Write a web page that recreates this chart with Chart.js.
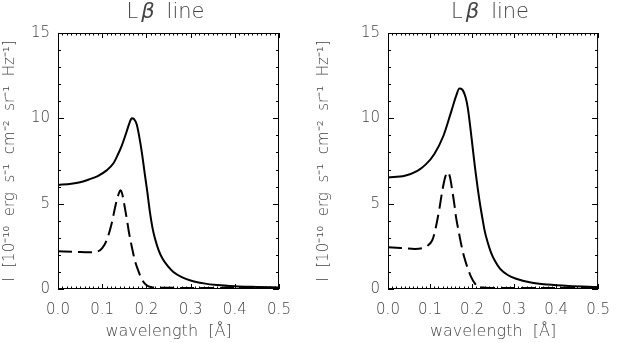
<!DOCTYPE html>
<html>
<head>
<meta charset="utf-8">
<script src="https://cdn.jsdelivr.net/npm/chart.js@4/dist/chart.umd.min.js"></script>
<style>
  html, body { margin: 0; padding: 0; background: #fff; }
  .panel { position: absolute; top: 0; width: 311px; height: 343px; }
</style>
</head>
<body>
<div class="panel" style="left:0"><canvas id="left" width="311" height="343"></canvas></div>
<div class="panel" style="left:311px"><canvas id="right" width="311" height="343"></canvas></div>
<script>
// left panel
const waveSolidL = [0.00, 0.03, 0.05, 0.07, 0.09, 0.11, 0.125, 0.135, 0.145, 0.155, 0.162, 0.167, 0.172, 0.178, 0.184, 0.190, 0.196, 0.202, 0.208, 0.214, 0.220, 0.228, 0.236, 0.248, 0.261, 0.28, 0.30, 0.33, 0.36, 0.40, 0.45, 0.50]
const intSolidL = [6.10, 6.17, 6.26, 6.42, 6.62, 6.95, 7.35, 7.85, 8.45, 9.20, 9.75, 10.00, 9.95, 9.65, 8.90, 7.95, 6.80, 5.70, 4.50, 3.55, 2.90, 2.25, 1.80, 1.35, 1.00, 0.70, 0.50, 0.33, 0.23, 0.16, 0.12, 0.09]
const waveDashL = [0.00, 0.04, 0.07, 0.09, 0.10, 0.11, 0.121, 0.131, 0.137, 0.141, 0.145, 0.151, 0.156, 0.161, 0.168, 0.174, 0.182, 0.189, 0.197, 0.205, 0.215, 0.25, 0.30, 0.50]
const intDashL = [2.21, 2.18, 2.15, 2.20, 2.40, 2.85, 3.80, 5.00, 5.55, 5.78, 5.60, 4.80, 4.05, 3.25, 2.35, 1.66, 1.05, 0.60, 0.30, 0.15, 0.09, 0.07, 0.06, 0.05]

// right panel
const waveSolidR = [0.00, 0.04, 0.07, 0.09, 0.11, 0.132, 0.151, 0.162, 0.170, 0.176, 0.185, 0.190, 0.196, 0.201, 0.207, 0.213, 0.219, 0.225, 0.230, 0.237, 0.245, 0.255, 0.267, 0.285, 0.305, 0.34, 0.38, 0.43, 0.50]
const intSolidR = [6.54, 6.64, 6.92, 7.30, 7.90, 8.98, 10.44, 11.30, 11.75, 11.70, 11.20, 10.60, 9.46, 8.40, 7.12, 6.00, 4.98, 4.10, 3.42, 2.75, 2.15, 1.62, 1.18, 0.82, 0.60, 0.38, 0.26, 0.18, 0.12]
const waveDashR = [0.00, 0.03, 0.064, 0.085, 0.094, 0.105, 0.111, 0.117, 0.123, 0.128, 0.136, 0.143, 0.148, 0.153, 0.158, 0.162, 0.168, 0.174, 0.181, 0.189, 0.198, 0.207, 0.215, 0.23, 0.30, 0.50]
const intDashR = [2.44, 2.40, 2.35, 2.42, 2.54, 2.84, 3.30, 4.00, 4.80, 5.57, 6.54, 6.83, 6.50, 5.76, 4.95, 4.20, 3.40, 2.64, 1.90, 1.27, 0.70, 0.32, 0.15, 0.08, 0.06, 0.05]

const xTicks = [0.0, 0.1, 0.2, 0.3, 0.4, 0.5]
const yTicks = [0, 5, 10, 15]
const panelTitle = ['L', 'β', 'line']
const xLabel = 'wavelength  [Å]'
const yLabel = 'I  [10⁻¹⁰  erg  s⁻¹  cm⁻²  sr⁻¹  Hz⁻¹]'

const textColor = '#444'
const fontFamily = '"DejaVu Sans", sans-serif'

const pts = (xs, ys) => xs.map((x, i) => ({ x: x, y: ys[i] }))

// IDL-style frame: box with inward ticks on all four sides, plus the title
const idlFrame = {
  id: 'idlFrame',
  afterDatasetsDraw(chart) {
    const { ctx, chartArea: a, scales: { x, y } } = chart
    ctx.save()
    ctx.strokeStyle = '#000'
    ctx.lineWidth = 1
    ctx.strokeRect(a.left + 0.5, a.top + 0.5, a.width - 1, a.height - 1)
    ctx.beginPath()
    for (let i = 0; i <= 50; i++) {
      const px = Math.round(x.getPixelForValue(i / 100)) + 0.5
      const len = i % 10 === 0 ? 5 : 2.5
      ctx.moveTo(px, a.bottom); ctx.lineTo(px, a.bottom - len)
      ctx.moveTo(px, a.top); ctx.lineTo(px, a.top + len)
    }
    for (let v = 0; v <= 15; v++) {
      const py = Math.round(y.getPixelForValue(v)) + 0.5
      const len = v % 5 === 0 ? 6 : 3
      ctx.moveTo(a.left, py); ctx.lineTo(a.left + len, py)
      ctx.moveTo(a.right, py); ctx.lineTo(a.right - len, py)
    }
    ctx.stroke()

    // title "Lβ line" with italic beta
    ctx.fillStyle = textColor
    ctx.textBaseline = 'alphabetic'
    const fonts = ['200 21px ' + fontFamily, 'italic 21px ' + fontFamily, '200 21px ' + fontFamily]
    const gaps = [3, 12, 0]
    let total = 0
    panelTitle.forEach((t, i) => { ctx.font = fonts[i]; total += ctx.measureText(t).width + gaps[i] })
    let tx = (a.left + a.right) / 2 - total / 2 - 3
    panelTitle.forEach((t, i) => {
      ctx.font = fonts[i]
      ctx.fillText(t, tx, 18)
      tx += ctx.measureText(t).width + gaps[i]
    })
    ctx.restore()
  }
}

function makePanel(id, solid, dashed, yAxisWidth, rightPad, yTitlePad) {
  new Chart(document.getElementById(id), {
    type: 'line',
    data: {
      datasets: [{
        data: solid,
        borderColor: '#000',
        borderWidth: 2,
        pointRadius: 0,
        cubicInterpolationMode: 'monotone',
        fill: false
      }, {
        data: dashed,
        borderColor: '#000',
        borderWidth: 2,
        borderDash: [14, 6],
        pointRadius: 0,
        cubicInterpolationMode: 'monotone',
        fill: false
      }]
    },
    options: {
      responsive: false,
      animation: false,
      layout: { padding: { top: 33, right: rightPad, left: 0, bottom: 0 } },
      plugins: { legend: { display: false }, tooltip: { enabled: false } },
      scales: {
        x: {
          type: 'linear',
          min: 0,
          max: 0.5,
          afterFit: s => { s.height = 54 },
          afterBuildTicks: s => { s.ticks = xTicks.map(v => ({ value: v })) },
          grid: { display: false, drawTicks: false },
          border: { display: false },
          ticks: {
            padding: 12,
            color: textColor,
            font: { family: fontFamily, size: 15, weight: 200 },
            callback: v => v.toFixed(1),
            maxRotation: 0,
            autoSkip: false
          },
          title: {
            display: true,
            text: xLabel,
            color: textColor,
            font: { family: fontFamily, size: 16, weight: 200 },
            padding: { top: 0, bottom: 2 }
          }
        },
        y: {
          min: 0,
          max: 15,
          afterFit: s => { s.width = yAxisWidth },
          afterBuildTicks: s => { s.ticks = yTicks.map(v => ({ value: v })) },
          grid: { display: false, drawTicks: false },
          border: { display: false },
          ticks: {
            padding: 8,
            color: textColor,
            font: { family: fontFamily, size: 15, weight: 200 }
          },
          title: {
            display: true,
            text: yLabel,
            color: textColor,
            font: { family: fontFamily, size: 15, weight: 200 },
            padding: { top: yTitlePad, bottom: 0 }
          }
        }
      }
    },
    plugins: [idlFrame]
  })
}

makePanel('left', pts(waveSolidL, intSolidL), pts(waveDashL, intDashL), 58, 32, 1)
makePanel('right', pts(waveSolidR, intSolidR), pts(waveDashR, intDashR), 77, 13, 4)
</script>
</body>
</html>
